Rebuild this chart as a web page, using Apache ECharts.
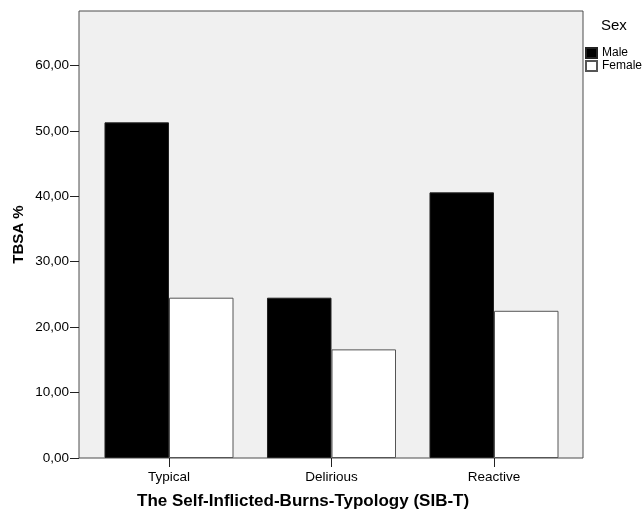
<!DOCTYPE html>
<html>
<head>
<meta charset="utf-8">
<script src="https://cdn.jsdelivr.net/npm/echarts@6/dist/echarts.min.js"></script>
<style>
html,body{margin:0;padding:0;background:#fff;}
#chart{width:644px;height:518px;}
</style>
</head>
<body>
<div id="chart"></div>
<script>
const categories = ['Typical', 'Delirious', 'Reactive'];
const seriesNames = ['Male', 'Female'];
const maleValues = [51.3, 24.5, 40.6];
const femaleValues = [24.5, 16.6, 22.5];
const xTitle = 'The Self-Inflicted-Burns-Typology (SIB-T)';
const yTitle = 'TBSA %';
const legendTitle = 'Sex';

const FONT = '"Liberation Sans", Arial, Helvetica, sans-serif';
const chart = echarts.init(document.getElementById('chart'), null, {renderer: 'canvas'});

chart.setOption({
  backgroundColor: '#ffffff',
  animation: false,
  textStyle: {fontFamily: FONT},
  title: [
    {text: xTitle, left: 137, top: 493, padding: 0,
     textStyle: {fontFamily: FONT, fontSize: 17, fontWeight: 'bold', color: '#000'}},
    {text: legendTitle, left: 601, top: 18, padding: 0,
     textStyle: {fontFamily: FONT, fontSize: 15, fontWeight: 'normal', color: '#000'}}
  ],
  legend: {
    orient: 'vertical', left: 585, top: 47, padding: 0,
    itemWidth: 11, itemHeight: 10, itemGap: 1, icon: 'rect',
    data: seriesNames,
    textStyle: {fontFamily: FONT, fontSize: 12, color: '#000'}
  },
  grid: [
    {left: 79, right: 61, top: 11, bottom: 60, show: true,
     backgroundColor: '#f0f0f0', borderColor: '#4d4d4d', borderWidth: 1},
    {left: 87.75, right: 68.75, top: -9, bottom: 60}
  ],
  xAxis: [
    {gridIndex: 0, type: 'value', min: 0, max: 1, show: false},
    {gridIndex: 1, type: 'category', data: categories,
     axisLine: {show: false},
     axisTick: {show: true, alignWithLabel: true, length: 9, lineStyle: {color: '#222', width: 1}},
     axisLabel: {margin: 12, fontFamily: FONT, fontSize: 13.5, color: '#000'},
     splitLine: {show: false}}
  ],
  yAxis: [
    {gridIndex: 0, type: 'value', min: 0, max: 67,
     axisLine: {show: false}, axisTick: {show: false}, axisLabel: {show: false},
     splitLine: {show: false},
     name: yTitle, nameLocation: 'middle', nameGap: 53, nameRotate: 90,
     nameTextStyle: {fontFamily: FONT, fontSize: 15, fontWeight: 'bold', color: '#000'}},
    {gridIndex: 1, type: 'value', min: 0, max: 70, interval: 10, offset: 8.75,
     axisLine: {show: false},
     axisTick: {show: true, length: 9, lineStyle: {color: '#222', width: 1}},
     axisLabel: {margin: 10, fontFamily: FONT, fontSize: 13.5, color: '#000', showMaxLabel: false,
       formatter: v => v.toFixed(2).replace('.', ',')},
     splitLine: {show: false}}
  ],
  series: [
    {name: seriesNames[0], type: 'bar', xAxisIndex: 1, yAxisIndex: 1, data: maleValues,
     barGap: '0%', barCategoryGap: '20.6%',
     itemStyle: {color: '#000000', borderColor: '#222', borderWidth: 1}},
    {name: seriesNames[1], type: 'bar', xAxisIndex: 1, yAxisIndex: 1, data: femaleValues,
     barGap: '0%', barCategoryGap: '20.6%',
     itemStyle: {color: '#ffffff', borderColor: '#555', borderWidth: 1}}
  ]
});
</script>
</body>
</html>
